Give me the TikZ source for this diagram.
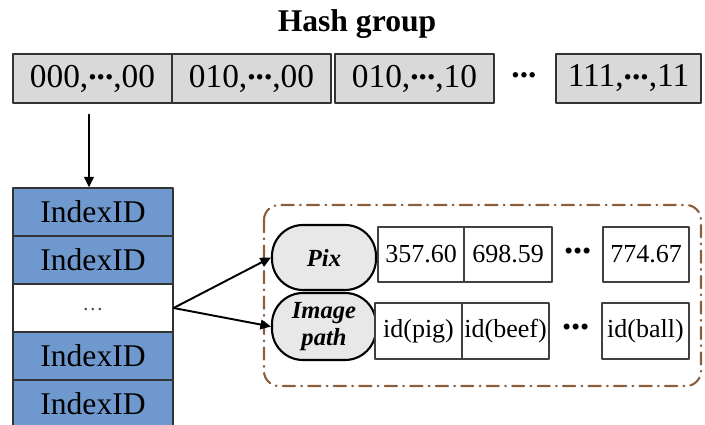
\documentclass[tikz,border=0pt]{standalone}
\usepackage{fontspec}
\setmainfont{Liberation Serif}
\usepackage{tikz}
\usetikzlibrary{arrows.meta,calc}
\definecolor{idblue}{RGB}{111,152,207}
\definecolor{hashgray}{RGB}{217,217,217}
\definecolor{keygray}{RGB}{232,232,232}
\definecolor{framebrown}{RGB}{139,94,60}
\newcommand{\mdots}{\raisebox{0.22em}{\textbf{...}}}
\newcommand{\fs}[1]{\fontsize{#1}{#1}\selectfont}
\tikzset{
    hashbox/.style={draw=black!80,fill=hashgray,line width=0.8pt,minimum height=0.98cm,inner sep=0pt,font=\fs{19}},
    idrow/.style={draw=black!80,fill=idblue,line width=0.7pt,minimum width=3.2cm,minimum height=0.96cm,inner sep=0pt,font=\fs{18}},
    keybox/.style={draw=black,fill=keygray,line width=1.2pt,minimum width=2.08cm,rounded corners=0.62cm,inner sep=0pt,align=center,font=\fontsize{14}{15.5}\selectfont\bfseries\itshape},
    cell/.style={draw=black!75,fill=white,line width=0.7pt,inner sep=0pt,font=\fs{14.8}},
    gapdots/.style={inner sep=0pt,font=\fs{21}}
}
\begin{document}
\begin{tikzpicture}[line cap=round,line join=round,x=0.02cm,y=-0.02cm]
                \useasboundingbox (0,0) rectangle (705,425);
                % title and hash buckets
                \node[font=\fs{18}\bfseries] (title) at (357,24) {Hash group};
                \node[hashbox,minimum width=3.18cm] (hb1) at (92.5,78.5) {000,\mdots,00};
                \node[hashbox,minimum width=3.18cm] (hb2) at (251.5,78.5) {010,\mdots,00};
                \node[hashbox,minimum width=3.18cm] (hb3) at (414.5,78.5) {010,\mdots,10};
                \node[gapdots,font=\fs{19}] (hbdots) at (524,78.5) {\mdots};
                \node[hashbox,minimum width=2.9cm] (hb4) at (628.5,78.5) {111,\mdots,11};
                % index column
                \node[idrow] (id1) at (93,212) {IndexID};
                \node[idrow] (id2) at (93,260) {IndexID};
                \node[idrow,fill=white,font=\fs{12},text=black!70] (id3) at (93,308) {\raisebox{-0.6ex}{\textellipsis}};
                \node[idrow] (id4) at (93,356) {IndexID};
                \node[idrow] (id5) at (93,404) {IndexID};
                \coordinate (hbout) at ([xshift=-0.07cm,yshift=-0.22cm]hb1.south);
                \draw[line width=1.1pt,-{Triangle[length=6pt,width=5.5pt]}] (hbout) -- (hbout |- id1.north);
                % record
                \draw[framebrown,line width=1.2pt,rounded corners=0.3cm,dash pattern=on 7pt off 3.5pt on 0.5pt off 3.5pt] (264,205) rectangle (701,386);
                \node[keybox,minimum height=1.3cm] (pix) at (324,257.5) {Pix};
                \node[keybox,minimum height=1.34cm] (path) at (324,326.5) {Image\\path};
                \node[cell,minimum width=1.72cm,minimum height=1.1cm] (p1) at (421,254.5) {357.60};
                \node[cell,minimum width=1.76cm,minimum height=1.1cm] (p2) at (508,254.5) {698.59};
                \node[gapdots] (pdots) at (578,254.5) {\mdots};
                \node[cell,minimum width=1.72cm,minimum height=1.1cm] (p3) at (646,254.5) {774.67};
                \node[cell,minimum width=1.74cm,minimum height=1.12cm] (q1) at (418.5,331) {id(pig)};
                \node[cell,minimum width=1.74cm,minimum height=1.12cm] (q2) at (505.5,331) {id(beef)};
                \node[gapdots] (qdots) at (576,331) {\mdots};
                \node[cell,minimum width=1.74cm,minimum height=1.12cm] (q3) at (645.5,331) {id(ball)};
                \draw[line width=1.1pt,-{Triangle[length=6pt,width=5.5pt]}] (id3.east) -- (pix.west);
                \draw[line width=1.1pt,-{Triangle[length=6pt,width=5.5pt]}] (id3.east) -- (path.west);
            \end{tikzpicture}
\end{document}
